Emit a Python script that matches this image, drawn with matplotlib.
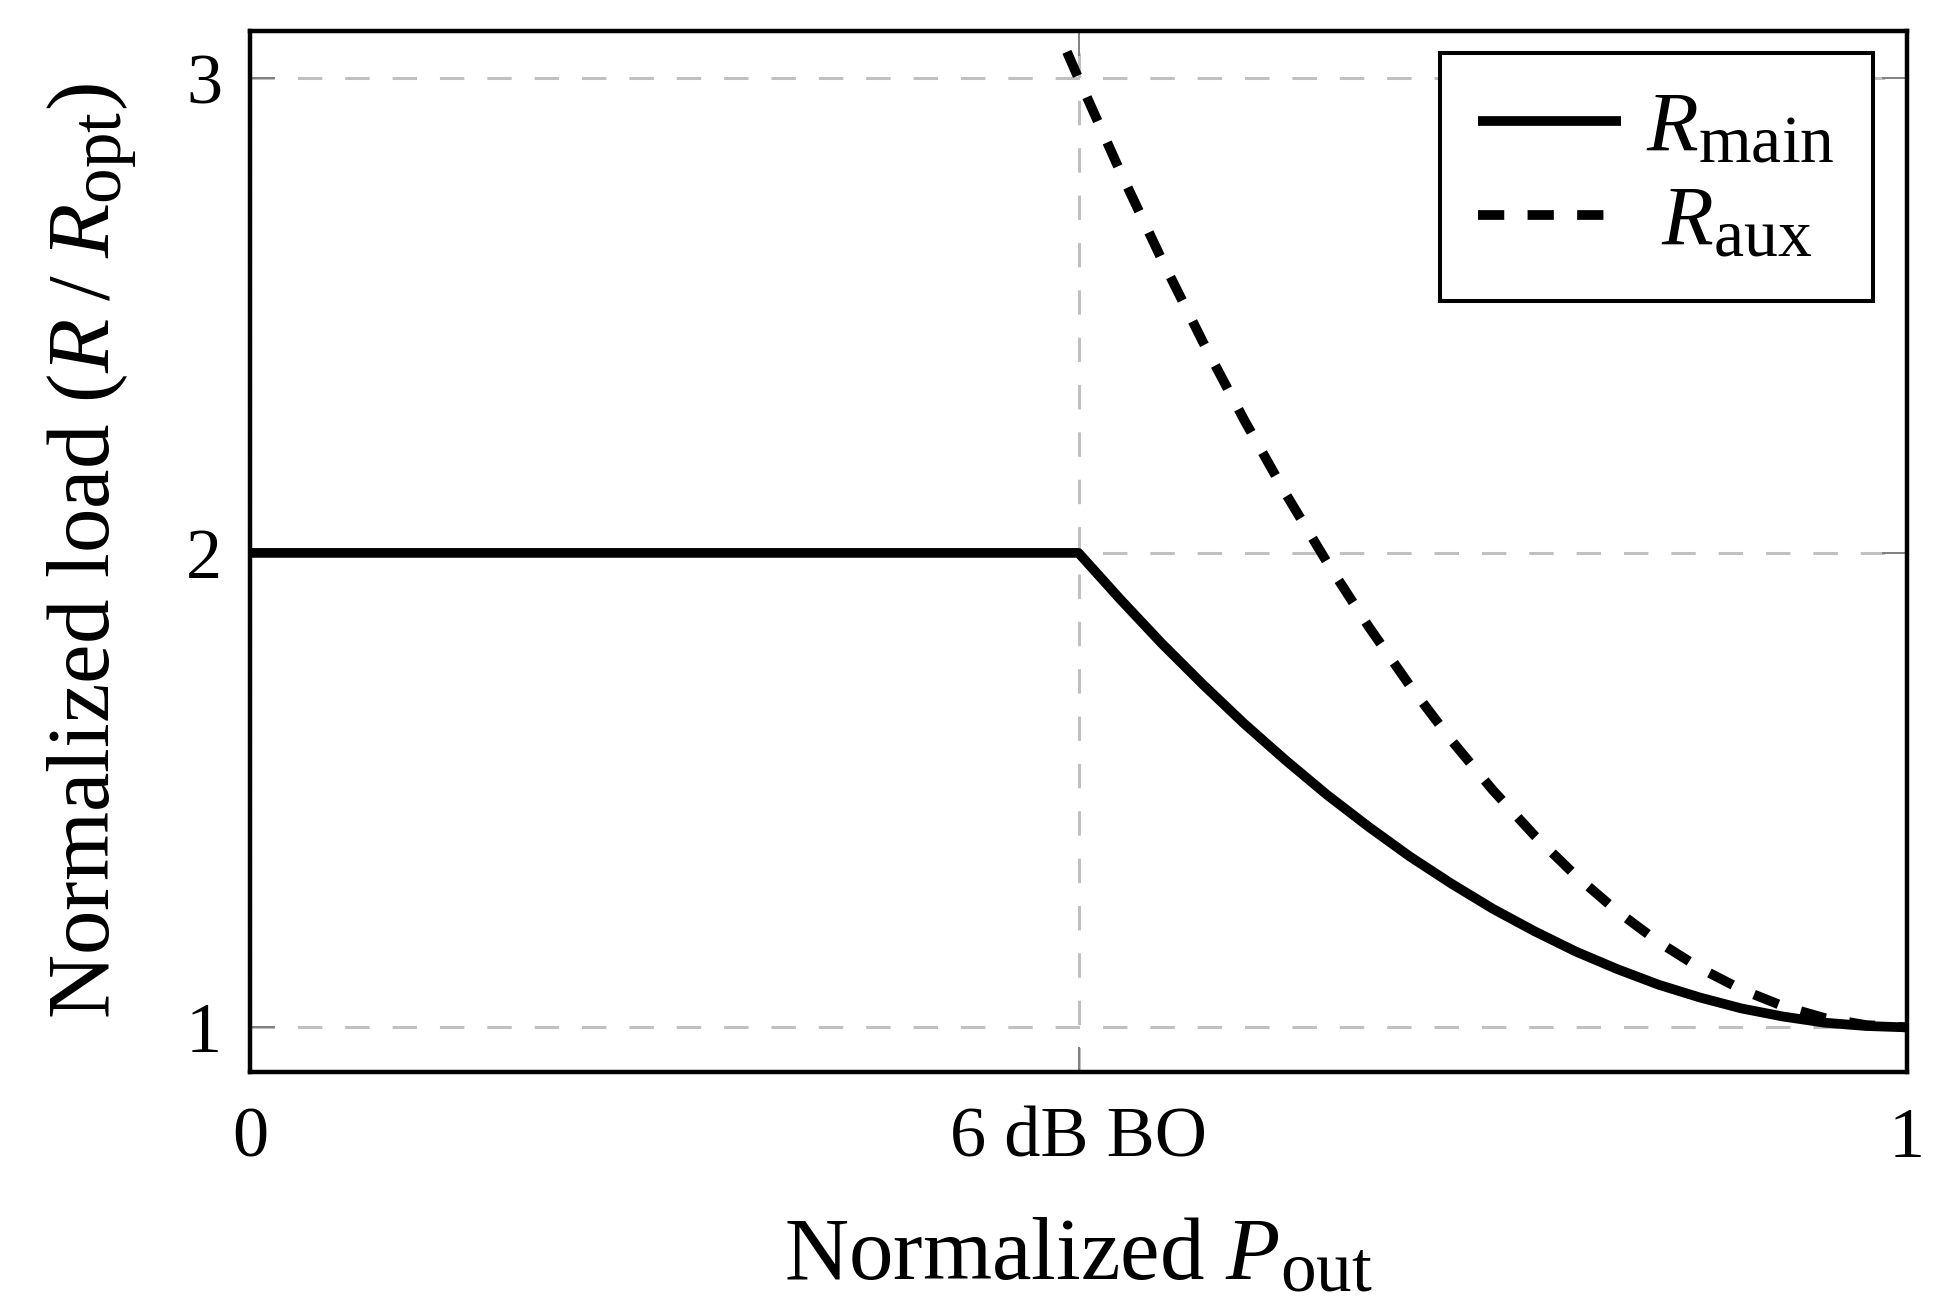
import matplotlib
matplotlib.use('Agg')
import matplotlib.pyplot as plt
import matplotlib._mathtext as mathtext_internal

# values (x = normalized output, 0.5 = 6 dB back-off)
main_x = [0.0, 0.5, 0.525, 0.55, 0.575, 0.6, 0.625, 0.65, 0.675, 0.7, 0.725,
          0.75, 0.775, 0.8, 0.825, 0.85, 0.875, 0.9, 0.925, 0.95, 0.975, 1.0]
main_y = [2.0, 2.0, 1.903, 1.81, 1.723, 1.64, 1.563, 1.49, 1.423, 1.36, 1.303,
          1.25, 1.203, 1.16, 1.123, 1.09, 1.063, 1.04, 1.023, 1.01, 1.003, 1.0]

aux_x = [0.493, 0.5, 0.525, 0.55, 0.575, 0.6, 0.625, 0.65, 0.675, 0.7, 0.725,
         0.75, 0.775, 0.8, 0.825, 0.85, 0.875, 0.9, 0.925, 0.95, 0.975, 1.0]
aux_y = [3.056, 3.0, 2.805, 2.62, 2.445, 2.28, 2.125, 1.98, 1.845, 1.72, 1.605,
         1.5, 1.405, 1.32, 1.245, 1.18, 1.125, 1.08, 1.045, 1.02, 1.005, 1.0]

x_ticks = [0, 0.5, 1]
x_tick_labels = ['0', '6 dB BO', '1']
y_ticks = [1, 2, 3]

# LaTeX-like subscripts are a bit larger than matplotlib's default
mathtext_internal.SHRINK_FACTOR = 0.8

plt.rcParams['font.family'] = 'serif'
plt.rcParams['font.serif'] = ['Liberation Serif', 'DejaVu Serif']
plt.rcParams['mathtext.fontset'] = 'custom'
plt.rcParams['mathtext.rm'] = 'Liberation Serif'
plt.rcParams['mathtext.it'] = 'Liberation Serif:italic'

fig = plt.figure(figsize=(19.48, 13.11), dpi=100)
ax = fig.add_axes([0.1283, 0.1823, 0.8507, 0.7941])

ax.plot(main_x, main_y, color='black', lw=7, solid_capstyle='butt',
        label=r'$R_{\mathrm{main}}$')
ax.plot(aux_x, aux_y, color='black', lw=7, linestyle=(0, (2.7, 2.4)),
        dash_capstyle='butt', label=r'$\hspace{0.26}R_{\mathrm{aux}}$')

ax.set_xlim(0, 1)
ax.set_ylim(0.906, 3.1)
ax.set_xticks(x_ticks)
ax.set_xticklabels(x_tick_labels)
ax.set_yticks(y_ticks)

ax.grid(True, color='#c0c0c0', linestyle=(0, (8, 7.5)), linewidth=2.2)
ax.set_axisbelow(True)
ax.tick_params(direction='in', length=18, width=1.4, color='#808080',
               top=True, right=True, labelsize=52)
ax.tick_params(axis='x', pad=25)
ax.tick_params(axis='y', pad=20)
for s in ax.spines.values():
    s.set_linewidth(3.2)

ax.set_xlabel(r'Normalized $P_{\mathrm{out}}$', fontsize=64, labelpad=33)
ax.set_ylabel(r'Normalized load $($$R\;/\;R_{\mathrm{opt}}$$)$', fontsize=64, labelpad=34)

leg = ax.legend(loc='upper right', bbox_to_anchor=(1873 / 1948, 1 - 53 / 1311),
                bbox_transform=fig.transFigure, borderaxespad=0, fontsize=61,
                handlelength=1.68, handletextpad=0.3, labelspacing=0.2,
                borderpad=0.45, fancybox=False, framealpha=1)
leg.get_frame().set_edgecolor('black')
leg.get_frame().set_linewidth(2.9)

fig.savefig('out.png', dpi=100)
